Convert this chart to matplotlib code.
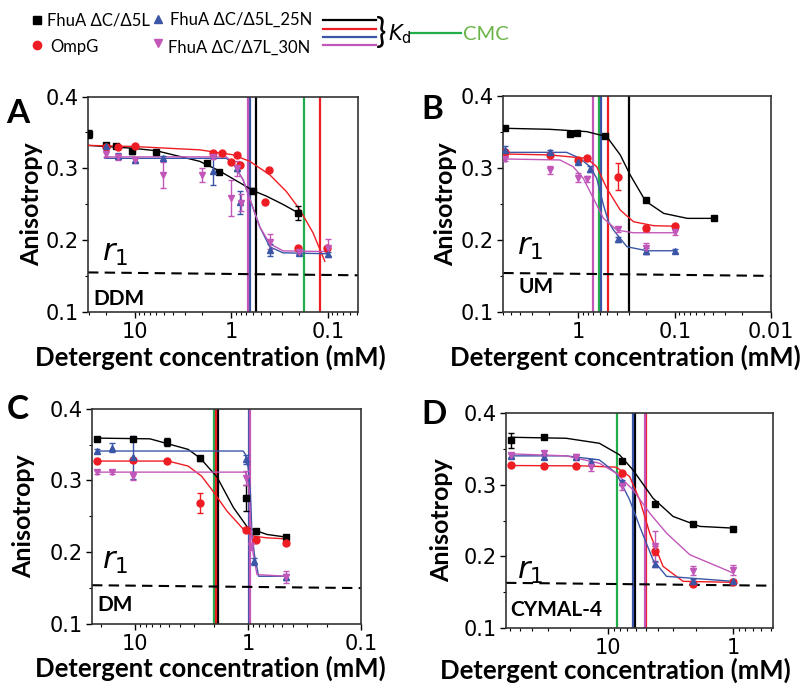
import matplotlib
matplotlib.use("Agg")
import matplotlib.pyplot as plt
from matplotlib.lines import Line2D
from matplotlib.ticker import MultipleLocator, LogLocator, FixedLocator, FixedFormatter, NullFormatter

# series (legend order) and their styles
labels = ["FhuA ΔC/Δ5L", "OmpG", "FhuA ΔC/Δ5L_25N", "FhuA ΔC/Δ7L_30N"]
colors = ["#000000", "#ee1d24", "#3b56a6", "#c257ba"]
markers = ["s", "o", "^", "v"]
cmc_color = "#22ad4b"
cmc_text_color = "#6ab445"

# ---------------- panel A : DDM ----------------
pts_A = {
    "FhuA ΔC/Δ5L": ([29.6, 20, 15.7, 10.8, 6, 1.8, 1.34, 0.6, 0.204],
                    [0.348, 0.333, 0.331, 0.3235, 0.323, 0.307, 0.295, 0.269, 0.238],
                    [0.005, 0.003, 0.003, 0.003, 0.003, 0.003, 0.003, 0.004, 0.01]),
    "OmpG": ([20.1, 15.1, 9.84, 1.55, 1.24, 1.0, 0.87, 0.81, 0.41, 0.45, 0.203, 0.102],
             [0.330, 0.3295, 0.331, 0.321, 0.321, 0.309, 0.319, 0.305, 0.298, 0.253, 0.189, 0.189],
             [0.002] * 12),
    "FhuA ΔC/Δ5L_25N": ([20, 15, 10, 5.1, 1.55, 0.87, 0.82, 0.4, 0.2, 0.1],
                        [0.331, 0.317, 0.312, 0.314, 0.297, 0.301, 0.253, 0.186, 0.182, 0.181],
                        [0.003, 0.004, 0.003, 0.003, 0.02, 0.004, 0.016, 0.008, 0.003, 0.003]),
    "FhuA ΔC/Δ7L_30N": ([20, 15, 10, 5.1, 2.0, 1.55, 1.0, 0.87, 0.8, 0.4, 0.2, 0.1],
                        [0.320, 0.3156, 0.311, 0.291, 0.291, 0.316, 0.259, 0.300, 0.252, 0.198, 0.184, 0.189],
                        [0.004, 0.004, 0.003, 0.018, 0.01, 0.003, 0.025, 0.01, 0.012, 0.01, 0.004, 0.012]),
}
fit_A = {
    "FhuA ΔC/Δ5L": ([30.4, 10.4, 5.97, 2.13, 1.32, 0.82, 0.597, 0.434, 0.292, 0.204],
                    [0.332, 0.328, 0.3245, 0.3098, 0.2962, 0.280, 0.269, 0.2613, 0.2497, 0.238]),
    "OmpG": ([30.4, 10.4, 2.13, 0.962, 0.646, 0.401, 0.271, 0.196, 0.143, 0.108],
             [0.332, 0.3305, 0.3258, 0.3189, 0.3098, 0.291, 0.268, 0.2425, 0.2101, 0.1705]),
    "FhuA ΔC/Δ5L_25N": ([20.4, 1.13, 0.962, 0.757, 0.621, 0.509, 0.401, 0.292, 0.1],
                        [0.314, 0.314, 0.307, 0.284, 0.251, 0.2185, 0.1906, 0.1823, 0.181]),
    "FhuA ΔC/Δ7L_30N": ([20.4, 1.13, 0.962, 0.757, 0.621, 0.509, 0.401, 0.292, 0.1],
                        [0.316, 0.316, 0.308, 0.284, 0.251, 0.2185, 0.195, 0.185, 0.184]),
}
kd_A = [0.551, 0.122, 0.646, 0.673]
cmc_A = 0.179
r1_A = [0.155, 0.151]

# ---------------- panel B : UM ----------------
pts_B = {
    "FhuA ΔC/Δ5L": ([5.69, 1.22, 1.04, 0.527, 0.197, 0.039],
                    [0.355, 0.347, 0.348, 0.344, 0.2554, 0.230],
                    [0.002] * 6),
    "OmpG": ([5.69, 1.98, 1.0, 0.81, 0.392, 0.197, 0.1],
             [0.3216, 0.318, 0.311, 0.3133, 0.288, 0.216, 0.219],
             [0.003, 0.003, 0.003, 0.003, 0.019, 0.003, 0.003]),
    "FhuA ΔC/Δ5L_25N": ([5.69, 1.98, 1.0, 0.756, 0.392, 0.197, 0.1],
                        [0.325, 0.3216, 0.3087, 0.298, 0.2006, 0.185, 0.185],
                        [0.006, 0.003, 0.003, 0.004, 0.003, 0.004, 0.003]),
    "FhuA ΔC/Δ7L_30N": ([5.69, 1.98, 1.0, 0.81, 0.392, 0.197, 0.1],
                        [0.3124, 0.297, 0.2864, 0.2846, 0.2146, 0.1882, 0.2113],
                        [0.003, 0.006, 0.006, 0.004, 0.003, 0.008, 0.004]),
}
fit_B = {
    "FhuA ΔC/Δ5L": ([5.69, 1.98, 0.819, 0.506, 0.367, 0.289, 0.201, 0.13, 0.074, 0.039],
                    [0.355, 0.3536, 0.3504, 0.3434, 0.318, 0.290, 0.254, 0.2368, 0.2299, 0.2299]),
    "OmpG": ([5.69, 1.98, 0.819, 0.644, 0.506, 0.367, 0.267, 0.165, 0.1],
             [0.3193, 0.318, 0.3133, 0.3017, 0.2716, 0.2414, 0.2252, 0.2197, 0.219]),
    "FhuA ΔC/Δ5L_25N": ([5.69, 1.32, 0.961, 0.756, 0.644, 0.548, 0.486, 0.431, 0.313, 0.194, 0.1],
                        [0.3216, 0.3216, 0.3133, 0.3017, 0.2855, 0.2484, 0.2252, 0.2136, 0.1905, 0.1849, 0.1849]),
    "FhuA ΔC/Δ7L_30N": ([5.69, 1.55, 1.13, 0.887, 0.697, 0.548, 0.398, 0.267, 0.1],
                        [0.3124, 0.311, 0.3017, 0.2855, 0.2577, 0.2299, 0.2136, 0.2099, 0.2099]),
}
kd_B = [0.298, 0.494, 0.575, 0.697]
cmc_B = 0.604
r1_B = [0.154, 0.150]

# ---------------- panel C : DM ----------------
pts_C = {
    "FhuA ΔC/Δ5L": ([21.6, 10.5, 5.23, 2.64, 1.03, 0.846, 0.455],
                    [0.358, 0.358, 0.3535, 0.3307, 0.275, 0.229, 0.2214],
                    [0.003, 0.003, 0.006, 0.003, 0.018, 0.003, 0.003]),
    "OmpG": ([21.6, 10.5, 5.23, 2.64, 1.03, 0.846, 0.455],
             [0.327, 0.3284, 0.327, 0.269, 0.2316, 0.2177, 0.213],
             [0.003, 0.003, 0.003, 0.014, 0.004, 0.003, 0.003]),
    "FhuA ΔC/Δ5L_25N": ([21.6, 16.1, 10.5, 1.03, 0.887, 0.455],
                        [0.341, 0.3456, 0.3325, 0.3293, 0.1874, 0.1656],
                        [0.003, 0.006, 0.03, 0.006, 0.005, 0.004]),
    "FhuA ΔC/Δ7L_30N": ([21.6, 16.1, 10.5, 1.03, 0.93, 0.455],
                        [0.312, 0.312, 0.306, 0.3037, 0.208, 0.1656],
                        [0.003, 0.003, 0.006, 0.01, 0.005, 0.008]),
}
fit_C = {
    "FhuA ΔC/Δ5L": ([21.6, 7.36, 3.38, 2.64, 1.88, 1.34, 1.0, 0.676, 0.455],
                    [0.359, 0.358, 0.3433, 0.331, 0.305, 0.262, 0.234, 0.2247, 0.221]),
    "OmpG": ([21.6, 5.09, 3.38, 2.57, 2.09, 1.53, 1.09, 0.888, 0.676, 0.455],
             [0.327, 0.327, 0.32, 0.306, 0.2874, 0.2572, 0.2316, 0.2223, 0.22, 0.2186]),
    "FhuA ΔC/Δ5L_25N": ([21.6, 1.1, 1.05, 0.994, 0.948, 0.92, 0.875, 0.803, 0.455],
                        [0.341, 0.341, 0.3363, 0.3177, 0.2805, 0.2247, 0.1967, 0.1665, 0.1665]),
    "FhuA ΔC/Δ7L_30N": ([21.6, 1.05, 0.984, 0.948, 0.9, 0.83, 0.455],
                        [0.3116, 0.3116, 0.292, 0.2456, 0.1991, 0.1688, 0.1665]),
}
kd_C = [1.84, 1.90, 0.97, 0.964]
cmc_C = 2.01
r1_C = [0.154, 0.150]

# ---------------- panel D : CYMAL-4 ----------------
pts_D = {
    "FhuA ΔC/Δ5L": ([59.3, 32.1, 7.68, 4.23, 2.09, 1.0],
                    [0.362, 0.3665, 0.3335, 0.2735, 0.245, 0.2386],
                    [0.01, 0.002, 0.003, 0.003, 0.003, 0.003]),
    "OmpG": ([59.3, 32.1, 17.9, 7.68, 4.23, 2.09, 1.0],
             [0.328, 0.3265, 0.3265, 0.316, 0.208, 0.162, 0.1637],
             [0.003, 0.003, 0.003, 0.003, 0.006, 0.003, 0.003]),
    "FhuA ΔC/Δ5L_25N": ([59.3, 32.1, 17.9, 13.6, 7.68, 4.23, 2.09, 1.0],
                        [0.3405, 0.3395, 0.3386, 0.3326, 0.3033, 0.1893, 0.166, 0.165],
                        [0.003, 0.003, 0.003, 0.004, 0.004, 0.004, 0.003, 0.003]),
    "FhuA ΔC/Δ7L_30N": ([59.3, 32.1, 17.9, 13.6, 7.68, 4.23, 2.09, 1.0],
                        [0.3419, 0.344, 0.339, 0.3256, 0.2986, 0.214, 0.18, 0.1814],
                        [0.003, 0.003, 0.004, 0.006, 0.006, 0.022, 0.006, 0.007]),
}
fit_D = {
    "FhuA ΔC/Δ5L": ([59.3, 21.5, 11.7, 8.07, 6.31, 4.37, 3.02, 1.85, 1.0],
                    [0.3665, 0.3651, 0.3581, 0.3419, 0.3209, 0.2814, 0.2558, 0.2419, 0.2395]),
    "OmpG": ([59.3, 15.8, 8.58, 6.71, 5.58, 4.64, 3.63, 2.51, 1.0],
             [0.327, 0.3265, 0.3247, 0.3116, 0.2791, 0.2326, 0.186, 0.1651, 0.1637]),
    "FhuA ΔC/Δ5L_25N": ([59.3, 21.5, 11.7, 8.58, 6.71, 5.58, 4.37, 3.41, 1.0],
                        [0.3405, 0.3405, 0.3349, 0.3163, 0.2791, 0.2419, 0.1953, 0.1721, 0.1651]),
    "FhuA ΔC/Δ7L_30N": ([59.3, 21.5, 11.7, 8.58, 6.31, 4.64, 3.41, 2.22, 1.0],
                        [0.3433, 0.3405, 0.3302, 0.3163, 0.293, 0.2605, 0.2326, 0.2023, 0.1767]),
}
kd_D = [6.04, 4.94, 6.31, 5.09]
cmc_D = 8.47
r1_D = [0.163, 0.159]

tick_font = "DejaVu Sans"
bold_font = "Lato"


def draw_panel(ax, pts, fit, kd, cmc, r1, name, xlim, xticks, xticklabels,
               r1_pos, name_pos, xlabel_pos, ylabel_x):
    """
    Draw one titration panel: fits, points with error bars, Kd / CMC lines, r1 line
    """
    for i, lab in enumerate(labels):
        fx, fy = fit[lab]
        ax.plot(fx, fy, color=colors[i], lw=1.0, zorder=3)
        px, py, pe = pts[lab]
        ax.errorbar(px, py, yerr=pe, fmt=markers[i], color=colors[i], ms=5,
                    capsize=2, elinewidth=1, capthick=1, zorder=4)
    ax.axvline(cmc, color=cmc_color, lw=1.6, zorder=2)
    for i in range(4):
        ax.axvline(kd[i], color=colors[i], lw=1.6, zorder=2)
    ax.plot(xlim, r1, color="black", lw=1.5, ls=(0, (5, 3)), zorder=2)

    ax.set_xscale("log")
    ax.set_xlim(xlim)
    ax.set_ylim(0.1, 0.4)
    ax.xaxis.set_major_locator(FixedLocator(xticks))
    ax.xaxis.set_major_formatter(FixedFormatter(xticklabels))
    ax.xaxis.set_minor_locator(LogLocator(subs=range(2, 10)))
    ax.xaxis.set_minor_formatter(NullFormatter())
    ax.yaxis.set_major_locator(MultipleLocator(0.1))
    ax.yaxis.set_minor_locator(MultipleLocator(0.05))
    ax.tick_params(which="major", direction="out", length=4, width=1, labelsize=15, pad=3)
    ax.tick_params(which="minor", direction="out", length=2.5, width=0.8)
    for t in ax.get_xticklabels() + ax.get_yticklabels():
        t.set_fontfamily(tick_font)
    for s in ax.spines.values():
        s.set_color("#333333")
        s.set_linewidth(1.2)

    ax.set_ylabel("Anisotropy", fontsize=18, fontweight="bold", family=bold_font)
    ax.yaxis.set_label_coords(ylabel_x, 0.5)
    ax.set_xlabel("Detergent concentration (mM)", fontsize=18.5, fontweight="bold", family=bold_font)
    ax.xaxis.set_label_coords(xlabel_pos[0], xlabel_pos[1])

    ax.text(r1_pos[0], r1_pos[1], "$r_1$", transform=ax.transAxes, fontsize=22,
            ha="left", va="center")
    ax.text(name_pos[0], name_pos[1], name, transform=ax.transAxes, fontsize=15,
            fontweight="bold", family=bold_font, ha="left", va="center")


fig = plt.figure(figsize=(8, 6.9), dpi=100)

axA = fig.add_axes([0.110, 0.548, 0.3375, 0.312])
axB = fig.add_axes([0.629, 0.548, 0.335, 0.313])
axC = fig.add_axes([0.115, 0.0957, 0.336, 0.312])
axD = fig.add_axes([0.6325, 0.090, 0.334, 0.311])

draw_panel(axA, pts_A, fit_A, kd_A, cmc_A, r1_A, "DDM", (30.5, 0.049), [10, 1, 0.1], ["10", "1", "0.1"],
           (0.05, 0.27), (0.02, 0.058), (0.452, -0.150), -0.167)
draw_panel(axB, pts_B, fit_B, kd_B, cmc_B, r1_B, "UM", (6.0, 0.01), [1, 0.1, 0.01], ["1", "0.1", "0.01"],
           (0.052, 0.296), (0.056, 0.116), (0.455, -0.150), -0.172)
draw_panel(axC, pts_C, fit_C, kd_C, cmc_C, r1_C, "DM", (24.0, 0.1), [10, 1, 0.1], ["10", "1", "0.1"],
           (0.037, 0.288), (0.019, 0.088), (0.442, -0.145), -0.212)
draw_panel(axD, pts_D, fit_D, kd_D, cmc_D, r1_D, "CYMAL-4", (65.0, 0.48), [10, 1], ["10", "1"],
           (0.041, 0.265), (0.015, 0.084), (0.408, -0.140), -0.199)

# panel letters
for letter, (x, y) in zip("ABCD", [(0.0225, 0.836), (0.541, 0.841), (0.0225, 0.406), (0.5425, 0.400)]):
    fig.text(x, y, letter, fontsize=24, fontweight="bold", family=bold_font, ha="center", va="center")

# marker key (two columns), positions in figure pixels
key_pos = [(37, 20, 47), (37, 45, 50), (158, 19, 170), (158, 43, 168)]
key_text_y = [20, 47, 20, 48]
for i, (mx, my, tx) in enumerate(key_pos):
    fig.add_artist(Line2D([mx / 800], [1 - my / 690], transform=fig.transFigure, ls="none",
                          marker=markers[i], color=colors[i], ms=6))
    fig.text(tx / 800, 1 - key_text_y[i] / 690, labels[i], fontsize=12, family=bold_font,
             ha="left", va="center")

# Kd / CMC key
for i, yy in enumerate([20, 29, 37, 45]):
    fig.add_artist(Line2D([323 / 800, 376 / 800], [1 - yy / 690] * 2, transform=fig.transFigure,
                          color=colors[i], lw=1.6))
fig.text(376 / 800, 1 - 33 / 690, "}", fontsize=25, family=bold_font,
         ha="left", va="center")
fig.text(388 / 800, 1 - 34 / 690, "$K_\\mathrm{d}$", fontsize=15, ha="left", va="center")
fig.add_artist(Line2D([411 / 800, 461 / 800], [1 - 33 / 690] * 2, transform=fig.transFigure,
                      color=cmc_color, lw=1.6))
fig.text(463 / 800, 1 - 34 / 690, "CMC", fontsize=14.5, color=cmc_text_color, family=bold_font,
         ha="left", va="center")

fig.savefig("out.png", dpi=100)
